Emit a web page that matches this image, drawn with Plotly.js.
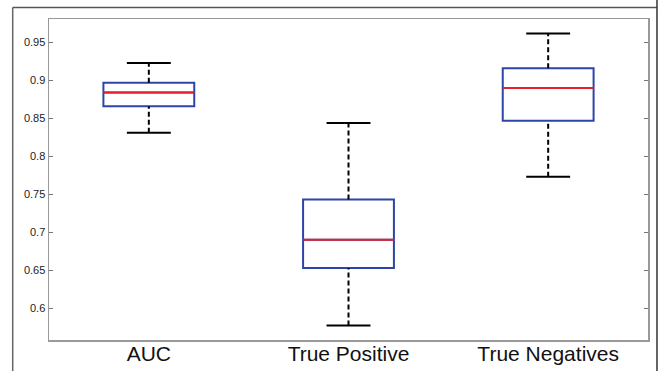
<!DOCTYPE html>
<html>
<head>
<meta charset="utf-8">
<script src="https://cdn.plot.ly/plotly-3.0.1.min.js"></script>
<style>
  html, body { margin: 0; padding: 0; background: #fff; }
  #chart { width: 661px; height: 371px; }
</style>
</head>
<body>
<div id="chart"></div>
<script>
// ---- data ----
const categories = ['AUC', 'True Positive', 'True Negatives'];
const lowerWhisker = [0.831, 0.577, 0.773];
const q1Values     = [0.866, 0.653, 0.847];
const medianValues = [0.884, 0.690, 0.890];
const q3Values     = [0.897, 0.743, 0.916];
const upperWhisker = [0.923, 0.844, 0.962];
const yTickVals = [0.6, 0.65, 0.7, 0.75, 0.8, 0.85, 0.9, 0.95];
const yTickText = ['0.6', '0.65', '0.7', '0.75', '0.8', '0.85', '0.9', '0.95'];

// ---- styles ----
const boxWidth = 0.455;
const capHalf = 0.11;
const positions = categories.map((_, i) => i);

const boxTrace = {
  type: 'box',
  x: positions,
  q1: q1Values,
  median: medianValues,
  q3: q3Values,
  lowerfence: q1Values,
  upperfence: q3Values,
  width: boxWidth,
  whiskerwidth: 0,
  line: { color: '#2e45a8', width: 2 },
  fillcolor: 'rgba(0,0,0,0)',
  hoverinfo: 'skip',
  showlegend: false
};

const wx = [], wy = [];
positions.forEach((p, i) => {
  wx.push(p, p, null, p, p, null);
  wy.push(q3Values[i], upperWhisker[i], null, lowerWhisker[i], q1Values[i], null);
});
const whiskerTrace = {
  type: 'scatter', mode: 'lines', x: wx, y: wy,
  line: { color: '#000', width: 2, dash: '5px,3px' },
  hoverinfo: 'skip', showlegend: false
};

const cx = [], cy = [];
positions.forEach((p, i) => {
  cx.push(p - capHalf, p + capHalf, null, p - capHalf, p + capHalf, null);
  cy.push(upperWhisker[i], upperWhisker[i], null, lowerWhisker[i], lowerWhisker[i], null);
});
const capTrace = {
  type: 'scatter', mode: 'lines', x: cx, y: cy,
  line: { color: '#000', width: 2 },
  hoverinfo: 'skip', showlegend: false
};

const mx = [], my = [];
positions.forEach((p, i) => {
  mx.push(p - boxWidth / 2, p + boxWidth / 2, null);
  my.push(medianValues[i], medianValues[i], null);
});
const medianTrace = {
  type: 'scatter', mode: 'lines', x: mx, y: my,
  line: { color: '#e8202a', width: 2 },
  hoverinfo: 'skip', showlegend: false
};

const layout = {
  width: 661, height: 371,
  margin: { l: 49, r: 13, t: 19, b: 31, pad: 0 },
  paper_bgcolor: '#fff', plot_bgcolor: '#fff',
  font: { family: '"Liberation Sans", Arial, sans-serif', color: '#111' },
  showlegend: false,
  xaxis: {
    range: [-0.5, 2.5],
    tickvals: positions, ticktext: categories,
    ticks: '', showgrid: false, zeroline: false,
    showline: true, mirror: true, linecolor: '#999', linewidth: 1.5,
    tickfont: { size: 21, color: '#111' },
    ticklabelstandoff: -6
  },
  yaxis: {
    range: [0.558, 0.981],
    tickvals: yTickVals, ticktext: yTickText,
    ticks: 'inside', ticklen: 4, tickwidth: 1, tickcolor: '#777',
    showgrid: false, zeroline: false,
    showline: true, mirror: 'ticks', linecolor: '#999', linewidth: 1.5,
    tickfont: { size: 11, color: '#222' }
  },
  shapes: [
    { type: 'line', xref: 'paper', yref: 'paper', x0: -0.0606, x1: -0.0606, y0: 1.036, y1: -0.12, line: { color: '#666', width: 1.5 } },
    { type: 'line', xref: 'paper', yref: 'paper', x0: -0.0606, x1: 1.015, y0: 1.036, y1: 1.036, line: { color: '#555', width: 1.5 } },
    { type: 'line', xref: 'paper', yref: 'paper', x0: 1.015, x1: 1.015, y0: 1.07, y1: -0.12, line: { color: '#333', width: 1.5 } }
  ]
};

Plotly.newPlot('chart', [boxTrace, whiskerTrace, capTrace, medianTrace], layout, { displayModeBar: false, staticPlot: true });
</script>
</body>
</html>
